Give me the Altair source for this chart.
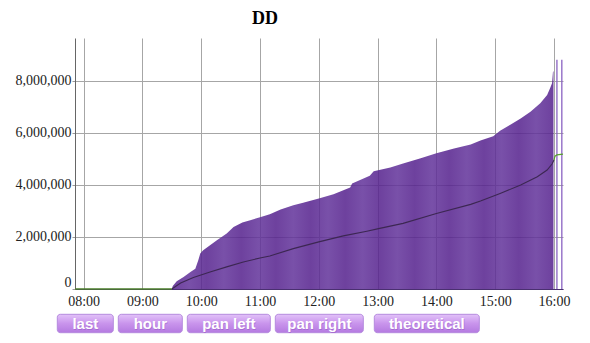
import altair as alt
import pandas as pd

# ---- chart values ----
AREA_TIMES = ["09:30", "09:31", "09:35", "09:42", "09:49", "09:54", "09:57", "09:59",
              "10:02", "10:09", "10:16", "10:26", "10:33", "10:42", "10:50", "11:00",
              "11:10", "11:21", "11:34", "11:44", "12:00", "12:15", "12:32", "12:34",
              "12:52", "12:56", "13:13", "13:26", "13:44", "14:00", "14:18", "14:35",
              "14:45", "14:58", "15:05", "15:15", "15:26", "15:36", "15:46", "15:53",
              "15:56", "15:58", "15:59", "15:59.5"]
AREA_VALUES = [0.0, 0.12, 0.30, 0.46, 0.65, 0.78, 1.10, 1.36,
               1.49, 1.68, 1.87, 2.13, 2.38, 2.55, 2.64, 2.76,
               2.87, 3.05, 3.22, 3.31, 3.48, 3.64, 3.90, 4.05,
               4.35, 4.52, 4.67, 4.82, 5.02, 5.21, 5.40, 5.55,
               5.70, 5.87, 6.08, 6.30, 6.55, 6.81, 7.13, 7.45,
               7.71, 7.90, 8.35, 8.35]

LINE_TIMES = ["09:30", "09:39", "09:52", "10:09", "10:26", "10:43", "11:00", "11:10",
              "11:34", "12:00", "12:25", "12:49", "13:01", "13:26", "14:00", "14:35",
              "14:45", "15:05", "15:26", "15:43", "15:53", "15:58", "16:00"]
LINE_VALUES = [0.0, 0.23, 0.44, 0.65, 0.85, 1.04, 1.19, 1.27,
               1.55, 1.81, 2.04, 2.22, 2.32, 2.52, 2.90, 3.25,
               3.38, 3.67, 3.99, 4.31, 4.57, 4.80, 4.95]

PRE_TIMES = ["07:51.3", "09:30"]
PRE_VALUES = [0.0, 0.0]
POST_TIMES = ["16:00", "16:01", "16:03", "16:09.2"]
POST_VALUES = [4.95, 5.10, 5.15, 5.18]

SPIKE_TIMES = ["16:03", "16:08"]
SPIKE_VALUES = [8.8, 8.8]

X_TICK_HOURS = [8, 9, 10, 11, 12, 13, 14, 15, 16]
Y_TICKS = [0, 2000000, 4000000, 6000000, 8000000]
X_DOMAIN = ["07:51.2", "16:09.2"]
Y_MAX = 9.64e6

TITLE = "DD"
BUTTONS = ["last", "hour", "pan left", "pan right", "theoretical"]

# ---- layout / style (pixels, colours) ----
BUTTON_X = [(-17.7, 38.3), (43.3, 107.3), (112.3, 195.3), (200.3, 288.3), (299.3, 404.3)]
BUTTON_Y = (276.3, 294.7)
W, H = 488, 251
STRIPE_COUNT = 22
STRIPE_DARK = "#56228e"
STRIPE_LIGHT = "#63349b"


def hours(t):
    h, m = t.split(":")
    return int(h) + float(m) / 60.0


def frame(times, values, scale=1e6):
    return pd.DataFrame({"t": [hours(t) for t in times],
                         "v": [v * scale for v in values]})


area_df = frame(AREA_TIMES, AREA_VALUES)
line_df = frame(LINE_TIMES, LINE_VALUES)
pre_df = frame(PRE_TIMES, PRE_VALUES)
post_df = frame(POST_TIMES, POST_VALUES)
spike_df = frame(SPIKE_TIMES, SPIKE_VALUES)
spike_df["base"] = 0

SERIF = "Liberation Serif"

x_scale = alt.Scale(domain=[hours(X_DOMAIN[0]), hours(X_DOMAIN[1])], nice=False, zero=False)
y_scale = alt.Scale(domain=[0, Y_MAX], nice=False)

x_axis = alt.Axis(values=X_TICK_HOURS, title=None,
                  labelExpr="(datum.value < 10 ? '0' : '') + datum.value + ':00'",
                  labelFont=SERIF, labelFontSize=14, labelColor="#222",
                  tickSize=0, labelPadding=5, labelFlush=False,
                  grid=True, gridColor="#a6a6a6", gridWidth=1,
                  domainColor="#4a3070")
y_axis = alt.Axis(values=Y_TICKS, format=",d", title=None,
                  labelFont=SERIF, labelFontSize=14, labelColor="#222",
                  tickSize=3, tickColor="#999", labelPadding=1, labelFlush=True,
                  grid=True, gridColor="#a6a6a6", gridWidth=1,
                  domainColor="#666")

X = alt.X("t:Q", scale=x_scale, axis=x_axis)
Y = alt.Y("v:Q", scale=y_scale, axis=y_axis)

stripe_stops = [alt.GradientStop(offset=i / STRIPE_COUNT,
                                 color=STRIPE_DARK if i % 2 == 0 else STRIPE_LIGHT)
                for i in range(STRIPE_COUNT + 1)]
area_fill = alt.Gradient(gradient="linear", stops=stripe_stops, x1=0, x2=1, y1=0, y2=0)

area = alt.Chart(area_df).mark_area(fill=area_fill, opacity=0.86).encode(x=X, y=Y)

spikes = alt.Chart(spike_df).mark_rule(color="#8a62c2", strokeWidth=1.3).encode(
    x="t:Q", y="v:Q", y2="base:Q")

line = alt.Chart(line_df).mark_line(color="#3c2752", strokeWidth=1.1).encode(x="t:Q", y="v:Q")
pre = alt.Chart(pre_df).mark_line(color="#4b7f2a", strokeWidth=1.3).encode(x="t:Q", y="v:Q")
post = alt.Chart(post_df).mark_line(color="#58a02e", strokeWidth=1.2).encode(x="t:Q", y="v:Q")

layers = [area, spikes, line, pre, post]

btn_fill = alt.Gradient(gradient="linear",
                        stops=[alt.GradientStop(offset=0, color="#e2c2f9"),
                               alt.GradientStop(offset=0.5, color="#c994ec"),
                               alt.GradientStop(offset=1, color="#b47ae0")],
                        x1=0, x2=0, y1=0, y2=1)
for label, (x0, x1) in zip(BUTTONS, BUTTON_X):
    d = pd.DataFrame({"label": [label]})
    rect = alt.Chart(d).mark_rect(fill=btn_fill, cornerRadius=3, stroke="#b58ade",
                                  strokeWidth=1).encode(
        x=alt.value(x0), x2=alt.value(x1),
        y=alt.value(BUTTON_Y[0]), y2=alt.value(BUTTON_Y[1]))
    shadow = alt.Chart(d).mark_text(font="Liberation Sans", fontSize=15, fontWeight="bold",
                                    color="#9a5cc8", opacity=0.6, baseline="middle",
                                    align="center").encode(
        x=alt.value((x0 + x1) / 2 + 0.6), y=alt.value((BUTTON_Y[0] + BUTTON_Y[1]) / 2 + 1.3),
        text="label:N")
    txt = alt.Chart(d).mark_text(font="Liberation Sans", fontSize=15, fontWeight="bold",
                                 color="white", baseline="middle", align="center").encode(
        x=alt.value((x0 + x1) / 2), y=alt.value((BUTTON_Y[0] + BUTTON_Y[1]) / 2 + 0.6),
        text="label:N")
    layers += [rect, shadow, txt]

chart = alt.layer(*layers).properties(
    width=W, height=H,
    title=alt.TitleParams(TITLE, font=SERIF, fontSize=18, fontWeight="bold",
                          color="#000", anchor="middle", dx=-54, offset=10),
    autosize=alt.AutoSizeParams(type="none"),
    padding={"left": 75, "top": 38, "right": 27, "bottom": 54},
).configure_view(strokeWidth=0)

chart.save("out.html", embed_options={"renderer": "svg", "actions": False})
